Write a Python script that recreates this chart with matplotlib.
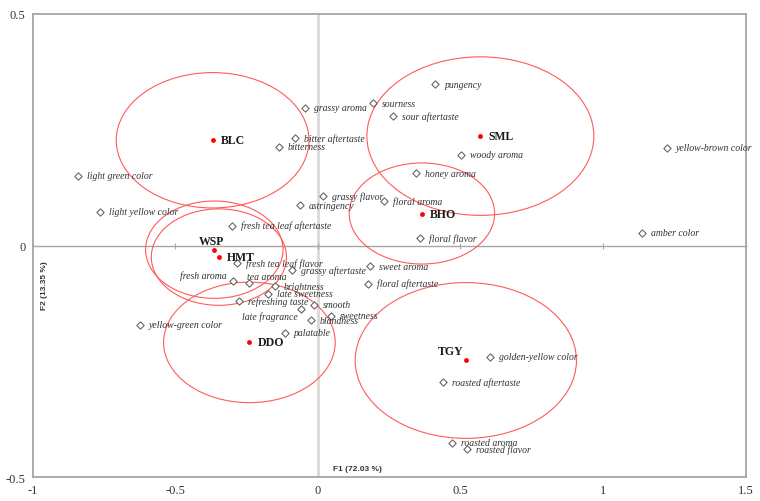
import matplotlib
matplotlib.use("Agg")
import matplotlib.pyplot as plt
from matplotlib.patches import Ellipse

# sensory attributes (F1, F2)
attr_names = ["grassy aroma", "sourness", "pungency", "sour aftertaste",
              "bitter aftertaste", "bitterness", "woody aroma", "yellow-brown color",
              "light green color", "honey aroma", "grassy flavor", "floral aroma",
              "astringency", "light yellow color", "fresh tea leaf aftertaste",
              "amber color", "floral flavor", "fresh tea leaf flavor",
              "grassy aftertaste", "sweet aroma", "fresh aroma", "tea aroma",
              "brightness", "floral aftertaste", "late sweetness", "refreshing taste",
              "smooth", "late fragrance", "sweetness", "blandness",
              "yellow-green color", "palatable", "golden-yellow color",
              "roasted aftertaste", "roasted aroma", "roasted flavor"]
attr_x = [-0.046, 0.194, 0.412, 0.264, -0.081, -0.136, 0.502, 1.225,
          -0.842, 0.344, 0.019, 0.232, -0.062, -0.765, -0.302, 1.136,
          0.359, -0.284, -0.090, 0.183, -0.299, -0.240, -0.150, 0.176,
          -0.176, -0.277, -0.015, -0.060, 0.047, -0.025, -0.624, -0.116,
          0.605, 0.440, 0.469, 0.524]
attr_y = [0.297, 0.307, 0.348, 0.279, 0.2325, 0.2125, 0.196, 0.211,
          0.151, 0.156, 0.106, 0.096, 0.087, 0.073, 0.043, 0.027,
          0.0155, -0.038, -0.053, -0.045, -0.077, -0.081, -0.088, -0.082,
          -0.104, -0.120, -0.128, -0.137, -0.151, -0.161, -0.171, -0.188,
          -0.240, -0.294, -0.425, -0.439]

# tea samples with confidence ellipses (semi-axes)
samples = ["BLC", "SML", "BHO", "WSP", "HMT", "DDO", "TGY"]
sample_x = [-0.369, 0.570, 0.365, -0.363, -0.347, -0.240, 0.519]
sample_y = [0.227, 0.236, 0.069, -0.009, -0.025, -0.209, -0.248]
semi_x = [0.338, 0.398, 0.255, 0.241, 0.237, 0.301, 0.388]
semi_y = [0.146, 0.171, 0.109, 0.105, 0.104, 0.130, 0.168]

xticks = [-1, -0.5, 0, 0.5, 1, 1.5]
yticks = [-0.5, 0, 0.5]

serif = "Liberation Serif"
sans = "Liberation Sans"
txt_col = "#333333"

fig = plt.figure(figsize=(7.6, 5.02), dpi=100)
ax = fig.add_axes([0.043, 0.0472, 0.938, 0.9235])
ax.set_xlim(-1, 1.5)
ax.set_ylim(-0.5, 0.5)

for s in ax.spines.values():
    s.set_color("#a6a6a6")
    s.set_linewidth(1.3)
ax.set_xticks(xticks)
ax.set_yticks(yticks)
ax.set_xticklabels(["%g" % t for t in xticks], fontfamily=serif, fontsize=9, color=txt_col)
ax.set_yticklabels(["%g" % t for t in yticks], fontfamily=serif, fontsize=9, color=txt_col)
ax.tick_params(length=0, pad=5)

# zero lines
ax.axvline(0, color="#d9d9d9", lw=2, zorder=0)
sec = ax.secondary_xaxis(0.5)
for s in sec.spines.values():
    s.set_color("#a6a6a6")
    s.set_linewidth(1)
sec.set_xticks(xticks)
sec.set_xticklabels([])
sec.tick_params(direction="inout", length=5, color="#a6a6a6",
                labelbottom=False, labeltop=False)

# ellipses and sample points
for i, name in enumerate(samples):
    ax.add_patch(Ellipse((sample_x[i], sample_y[i]), 2 * semi_x[i], 2 * semi_y[i],
                         fill=False, ec="#ff5a5a", lw=0.8, zorder=2))
ax.scatter(sample_x, sample_y, s=6, color="red", zorder=4)

offs_s = {"WSP": (-2, 6, "center"), "TGY": (-2, 7, "right")}
for i, name in enumerate(samples):
    dx, dy, ha = offs_s.get(name, (6, 0, "left"))
    ax.annotate(name, (sample_x[i], sample_y[i]), xytext=(dx, dy),
                textcoords="offset points", ha=ha, va="center",
                fontfamily=serif, fontsize=8.5, fontweight="bold", color="#1a1a1a", zorder=5)

ax.scatter(attr_x, attr_y, marker="D", s=14, facecolor="white",
           edgecolor="#555555", linewidth=0.7, zorder=3)

offs_a = {"fresh aroma": (-4, 4.5, "right"), "tea aroma": (-2, 4.5, "left"),
          "late fragrance": (-2, -5, "right")}
for i, name in enumerate(attr_names):
    dx, dy, ha = offs_a.get(name, (6.5, 0, "left"))
    ax.annotate(name, (attr_x[i], attr_y[i]), xytext=(dx, dy),
                textcoords="offset points", ha=ha, va="center",
                fontfamily=serif, fontsize=7, style="italic", color=txt_col, zorder=5)

ax.text(0.421, 0.02, "F1 (72.03 %)", transform=ax.transAxes, ha="left", va="center",
        fontfamily=sans, fontsize=6, fontweight="bold", color=txt_col)
ax.text(0.016, 0.415, "F2 (13.35 %)", transform=ax.transAxes, ha="center", va="center",
        rotation=90, fontfamily=sans, fontsize=6, fontweight="bold", color=txt_col)

fig.savefig("out.png", dpi=100)
